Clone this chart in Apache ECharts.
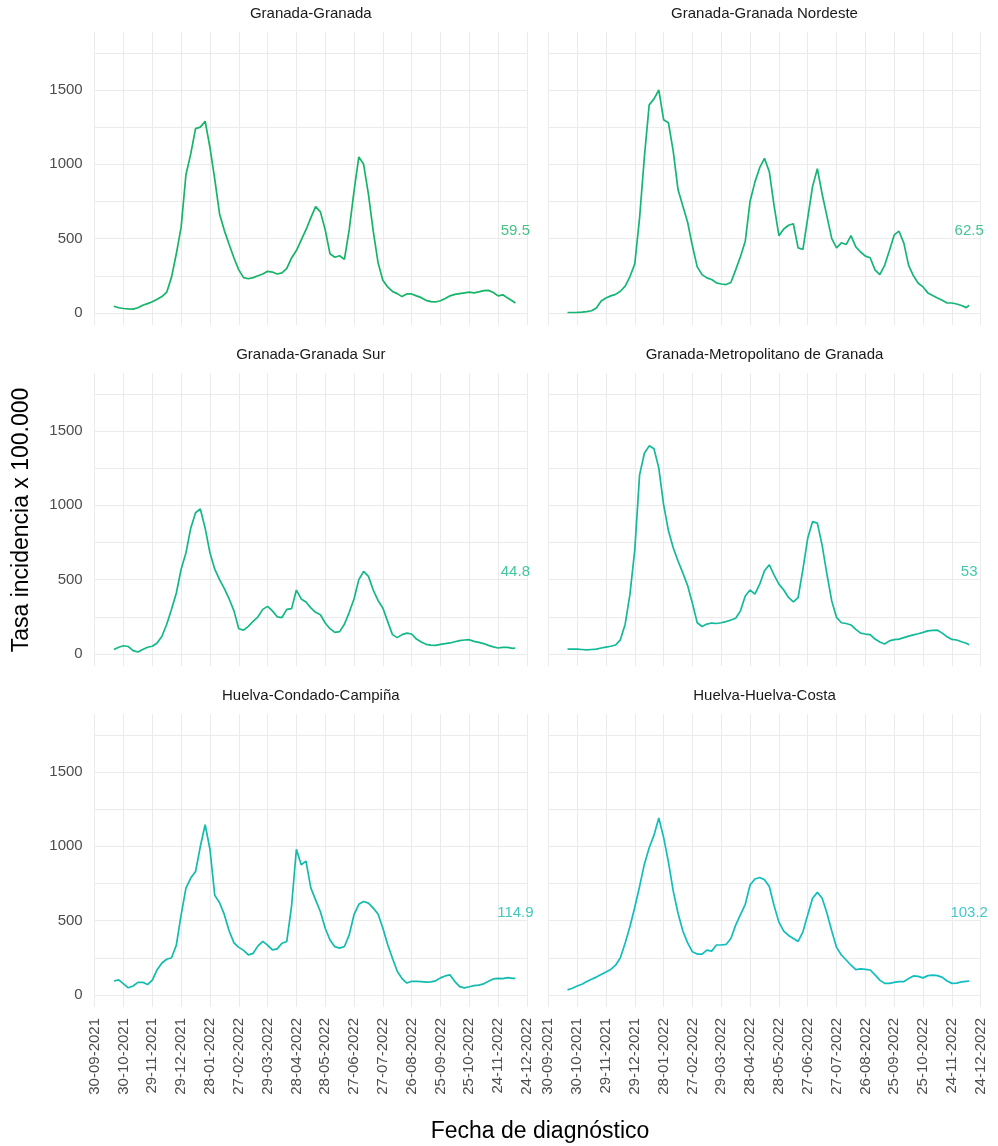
<!DOCTYPE html>
<html><head><meta charset="utf-8">
<script src="https://cdn.jsdelivr.net/npm/echarts@6/dist/echarts.min.js"></script>
<style>html,body{margin:0;padding:0;background:#fff}#c{width:998px;height:1146px}</style>
</head><body><div id="c"></div>
<script>
// ---- data ----
const panelTitles = ['Granada-Granada', 'Granada-Granada Nordeste', 'Granada-Granada Sur',
  'Granada-Metropolitano de Granada', 'Huelva-Condado-Campiña', 'Huelva-Huelva-Costa'];
const startDate = '30-09-2021';
const tickLabels = ['30-09-2021','30-10-2021','29-11-2021','29-12-2021','28-01-2022','27-02-2022',
  '29-03-2022','28-04-2022','28-05-2022','27-06-2022','27-07-2022','26-08-2022','25-09-2022',
  '25-10-2022','24-11-2022','24-12-2022'];
// days since 30-09-2021
const days = [20,25,30,35,40,45,50,55,60,65, 70,75,80,85,90,95,100,105,110,115,
  120,125,130,135,140,145,150,155,160,165, 170,175,180,185,190,195,200,205,210,215,
  220,225,230,235,240,245,250,255,260,265, 270,275,280,285,290,295,300,305,310,315,
  320,325,330,335,340,345,350,355,360,365, 370,375,380,385,390,395,400,405,410,415,
  420,425,430,435,438];
const granada = [45,35,30,27,26,35,52,63,75,92, 110,140,241,398,577,930,1070,1240,1250,1290,
  1113,900,666,554,460,370,290,238,230,238, 250,262,280,275,262,270,300,370,420,490,
  560,640,715,680,560,398,375,385,360,560, 820,1050,1000,800,550,340,220,175,145,130,
  110,128,128,115,103,85,76,74,82,98, 115,125,130,135,140,135,142,150,152,138,
  115,122,100,80,67];
const nordeste = [3,3,4,6,9,15,34,80,100,115, 125,146,180,245,330,640,1050,1400,1440,1500,
  1300,1280,1089,830,720,610,450,310,258,236, 225,202,195,191,205,290,380,483,752,880,
  977,1040,950,720,520,565,590,600,438,427, 640,850,970,800,650,500,438,472,460,520,
  445,410,382,371,290,258,320,420,525,550, 470,320,250,200,175,135,118,100,85,67,
  67,60,50,36,52];
const sur = [30,45,55,50,22,13,30,45,52,74, 119,200,300,410,570,680,846,950,975,846,
  680,570,500,440,370,290,170,160,186,220, 250,300,320,290,250,245,300,305,430,370,
  350,310,280,264,208,170,145,150,200,280, 370,500,555,522,430,360,309,219,130,110,
  130,140,134,100,80,65,60,58,64,70, 74,82,90,94,96,85,78,70,58,48,
  40,44,44,38,40];
const metropolitano = [33,33,33,30,27,30,33,40,46,52, 60,95,200,402,700,1205,1350,1400,1380,1250,
  1004,830,714,625,545,460,340,210,185,201, 208,205,210,218,228,240,290,390,430,402,
  469,560,600,530,470,430,380,350,379,570, 780,890,880,730,536,357,246,210,205,195,
  165,140,134,130,100,80,67,88,96,100, 110,120,128,136,145,155,158,160,140,115,
  98,94,82,72,62];
const condado = [94,101,75,48,60,85,85,70,100,170, 215,240,250,335,539,719,786,830,1000,1145,
  980,670,620,540,430,350,320,300,270,280, 330,360,335,303,310,348,360,600,980,876,
  900,720,640,560,449,370,325,315,326,404, 540,610,629,618,584,545,450,340,247,160,
  110,80,92,92,90,86,88,95,115,128, 135,90,56,48,55,63,66,75,92,108,
  112,110,117,112,112];
const costa = [34,45,60,72,90,105,120,137,154,172, 200,250,350,460,590,730,880,990,1075,1190,
  1060,895,700,550,430,350,290,275,275,302, 295,336,336,340,380,470,540,610,740,780,
  790,775,730,600,490,430,400,380,360,425, 540,650,690,650,550,430,320,269,235,200,
  170,175,172,168,135,100,78,78,85,90, 90,110,128,125,115,130,134,130,118,94,
  78,80,88,92,94];
const endLabels = ['59.5', '62.5', '44.8', '53', '114.9', '103.2'];
const endLabelY = 550;
const yLabelValues = [0, 500, 1000, 1500];
const yGridValues = [0, 250, 500, 750, 1000, 1250, 1500, 1750];
const colors = ['#16B466', '#14B676', '#13B887', '#12BA99', '#11BCAC', '#10BDBF'];

// ---- chart ----
const seriesValues = [granada, nordeste, sur, metropolitano, condado, costa];
const FONT = '"Liberation Sans", Arial, sans-serif';
const lefts = [94.7, 548.3], widths = [432.2, 432.4], tops = [32, 373, 714], H = 293;
const grids = [], xAxes = [], yAxes = [], series = [], graphics = [];
for (let i = 0; i < 6; i++) {
  const col = i % 2, row = Math.floor(i / 2);
  grids.push({left: lefts[col], top: tops[row], width: widths[col], height: H});
  xAxes.push({type: 'value', gridIndex: i, min: 0, max: 450, interval: 30,
    axisLine: {show: false}, axisTick: {show: false},
    splitLine: {show: true, lineStyle: {color: '#ebebeb', width: 1}},
    axisLabel: {show: row === 2, rotate: 90, margin: 11, fontSize: 15, color: '#4d4d4d', fontFamily: FONT,
      padding: [0, 0, 8, 0],
      formatter: v => tickLabels[Math.round(v / 30)] || ''}});
  yAxes.push({type: 'value', gridIndex: i, min: -81, max: 1890,
    axisLine: {show: false}, axisTick: {show: false}, splitLine: {show: false},
    axisLabel: {show: col === 0, customValues: yLabelValues, margin: 12, fontSize: 15,
      color: '#4d4d4d', fontFamily: FONT, formatter: v => String(v)}});
  const vals = seriesValues[i];
  series.push({type: 'line', xAxisIndex: i, yAxisIndex: i, z: 3,
    data: days.map((d, j) => [d, vals[j]]),
    showSymbol: false, symbol: 'none',
    lineStyle: {width: 1.7, color: colors[i]}, itemStyle: {color: colors[i]},
    markLine: {silent: true, z: 1, symbol: ['none', 'none'], label: {show: false},
      lineStyle: {color: '#ebebeb', type: 'solid', width: 1},
      emphasis: {disabled: true},
      data: yGridValues.map(v => ({yAxis: v}))}});
  series.push({type: 'scatter', xAxisIndex: i, yAxisIndex: i, z: 4,
    data: [[days[days.length - 1], endLabelY]], symbolSize: 1,
    itemStyle: {color: 'rgba(0,0,0,0)'},
    label: {show: true, position: 'inside', formatter: endLabels[i], color: colors[i],
      fontSize: 15, fontFamily: FONT}});
  graphics.push({type: 'text', x: lefts[col] + widths[col] / 2, y: tops[row] - 18,
    style: {text: panelTitles[i], fontSize: 15, fontFamily: FONT, fill: '#1a1a1a',
      align: 'center', verticalAlign: 'middle', textAlign: 'center', textVerticalAlign: 'middle'}});
}
graphics.push({type: 'text', x: 22, y: 520, rotation: Math.PI / 2,
  style: {text: 'Tasa incidencia x 100.000', fontSize: 23, fontFamily: FONT, fill: '#000',
    align: 'center', verticalAlign: 'middle', textAlign: 'center', textVerticalAlign: 'middle'}});
graphics.push({type: 'text', x: 540, y: 1132,
  style: {text: 'Fecha de diagnóstico', fontSize: 23, fontFamily: FONT, fill: '#000',
    align: 'center', verticalAlign: 'middle', textAlign: 'center', textVerticalAlign: 'middle'}});

const chart = echarts.init(document.getElementById('c'), null, {renderer: 'canvas'});
chart.setOption({
  animation: false,
  backgroundColor: '#fff',
  grid: grids, xAxis: xAxes, yAxis: yAxes, series: series, graphic: graphics
});
</script>
</body></html>
